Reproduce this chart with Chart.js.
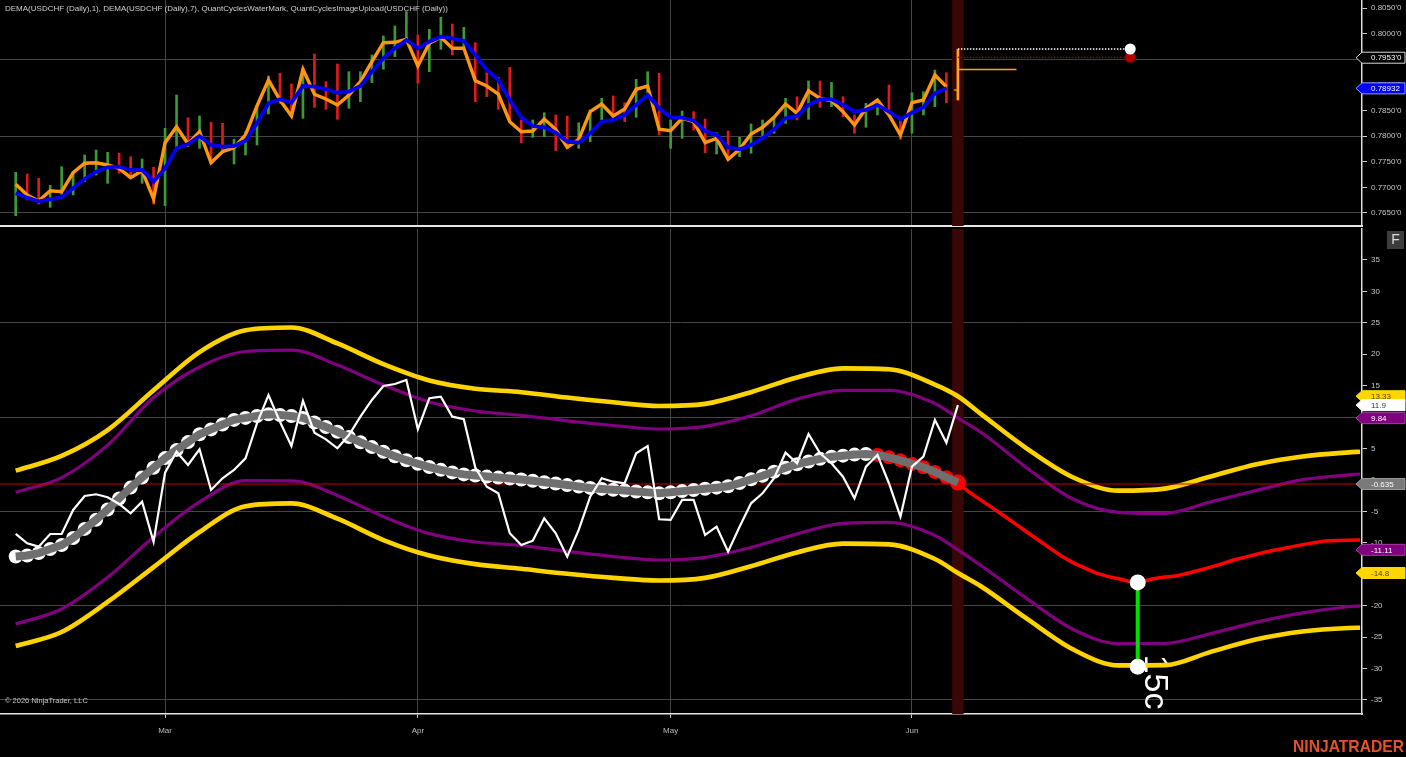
<!DOCTYPE html>
<html>
<head>
<meta charset="utf-8">
<script src="https://cdn.jsdelivr.net/npm/chart.js@4.4.1/dist/chart.umd.min.js"></script>
<style>
  html, body { margin: 0; padding: 0; background: #000; overflow: hidden; }
  #wrap { position: relative; width: 1406px; height: 757px; background: #000; }
  #topPane { position: absolute; left: 0; top: 0; }
  #botPane { position: absolute; left: 0; top: 228px; }
</style>
</head>
<body>
<div id="wrap">
  <canvas id="topPane" width="1406" height="228"></canvas>
  <canvas id="botPane" width="1406" height="529"></canvas>
</div>
<script>
// ---- price panel data (bar index 0..81, USDCHF daily) ----
const barHigh = [
  0.77294,0.77261,0.77177,0.77040,0.77403,0.77300,0.77632,0.77729,0.77684,0.77665,
  0.77598,0.77554,0.77392,0.78153,0.78802,0.78359,0.78393,0.78270,0.78250,0.77938,
  0.78086,0.78600,0.79173,0.79226,0.79017,0.79323,0.79602,0.79062,0.79407,0.79257,
  0.79257,0.79583,0.79954,0.80149,0.80428,0.79973,0.80084,0.80318,0.80188,0.80123,
  0.79823,0.79237,0.79148,0.79343,0.78315,0.78315,0.78457,0.78412,0.78393,0.78262,
  0.78510,0.78738,0.78783,0.78652,0.79109,0.79257,0.79226,0.78315,0.78490,0.78476,
  0.78334,0.78067,0.78100,0.77977,0.78237,0.78315,0.78380,0.78738,0.78769,0.79076,
  0.79076,0.79050,0.78769,0.78412,0.78640,0.78720,0.78997,0.78315,0.78847,0.78867,
  0.79290,0.79237
];
const barLow = [
  0.76447,0.76754,0.76676,0.76611,0.76865,0.76851,0.77111,0.77241,0.77079,0.77275,
  0.77180,0.77079,0.76676,0.76642,0.77794,0.77794,0.77762,0.77460,0.77680,0.77456,
  0.77632,0.77827,0.78432,0.78640,0.78380,0.78348,0.78562,0.78523,0.78328,0.78543,
  0.78672,0.79042,0.79304,0.79550,0.79876,0.79031,0.79257,0.79694,0.79583,0.79714,
  0.78672,0.78769,0.78523,0.78281,0.77872,0.77977,0.77989,0.77716,0.77762,0.77762,
  0.77891,0.78315,0.78367,0.78281,0.78367,0.78836,0.78022,0.77762,0.77957,0.78119,
  0.77677,0.77651,0.77530,0.77599,0.77665,0.77989,0.78055,0.78250,0.78315,0.78328,
  0.78562,0.78574,0.78379,0.78055,0.78172,0.78412,0.78400,0.77938,0.78055,0.78412,
  0.78574,0.78652
];
const barUp = [
  1,0,0,1,1,1,1,1,1,0,
  0,1,0,1,1,0,1,0,0,1,
  1,1,1,0,0,1,0,0,0,1,
  1,1,1,1,1,0,1,1,0,1,
  0,0,0,0,0,1,1,0,0,1,
  1,1,0,0,1,1,0,1,1,0,
  0,1,0,1,1,1,1,1,0,1,
  0,1,0,0,1,1,0,0,1,1,
  1,0
];
const dema1 = [
  0.77060,0.76851,0.76734,0.76935,0.76916,0.77286,0.77470,0.77481,0.77437,0.77372,
  0.77189,0.77325,0.76773,0.77872,0.78184,0.77846,0.78086,0.77481,0.77696,0.77774,
  0.78022,0.78588,0.79095,0.78705,0.78393,0.79304,0.78816,0.78724,0.78607,0.78802,
  0.79062,0.79452,0.79823,0.79831,0.79889,0.79368,0.79811,0.79928,0.79714,0.79714,
  0.79081,0.78978,0.78822,0.78281,0.78086,0.78100,0.78334,0.78133,0.77782,0.77938,
  0.78477,0.78627,0.78393,0.78529,0.78914,0.78978,0.78133,0.78106,0.78348,0.78281,
  0.77872,0.77957,0.77548,0.77743,0.78041,0.78172,0.78367,0.78627,0.78445,0.78886,
  0.78738,0.78691,0.78477,0.78217,0.78543,0.78705,0.78412,0.78022,0.78652,0.78705,
  0.79193,0.78964
];
const dema7 = [
  0.76884,0.76799,0.76728,0.76767,0.76806,0.76982,0.77163,0.77306,0.77392,0.77403,
  0.77339,0.77339,0.77111,0.77372,0.77762,0.77846,0.78002,0.77827,0.77794,0.77807,
  0.77911,0.78250,0.78640,0.78718,0.78652,0.78978,0.78964,0.78914,0.78847,0.78867,
  0.78978,0.79257,0.79518,0.79714,0.79876,0.79714,0.79842,0.79940,0.79909,0.79856,
  0.79583,0.79290,0.79095,0.78705,0.78367,0.78197,0.78172,0.78067,0.77891,0.77872,
  0.78055,0.78281,0.78315,0.78412,0.78607,0.78802,0.78543,0.78367,0.78359,0.78301,
  0.78100,0.78022,0.77782,0.77743,0.77827,0.77957,0.78133,0.78348,0.78393,0.78607,
  0.78718,0.78718,0.78607,0.78477,0.78510,0.78607,0.78477,0.78328,0.78457,0.78562,
  0.78836,0.78932
];

// forming bar and target levels
const currentBar = 82;
const formingBar = [0.78705, 0.79694];
const formingTick = 0.7930;
const formingTickEnd = 87.1;
const formingOpen = 0.7890;
const levelEnd = 97;
const levelWhite = 0.7970;
const levelRed = 0.79538;

// ---- cycle panel data ----
const oscillator = [
  -8.59,-10.07,-10.61,-8.59,-8.59,-4.77,-2.55,-2.27,-2.75,-3.82,
  -5.30,-3.45,-9.82,1.16,4.50,2.39,4.88,-1.59,0.27,1.59,
  3.45,9.02,13.52,9.27,5.41,12.62,7.52,6.47,5.04,7.16,
  10.07,12.73,14.95,15.27,15.91,8.07,13.00,13.25,10.07,9.66,
  1.99,-1.07,-2.12,-8.48,-10.34,-9.66,-6.09,-8.48,-12.20,-7.95,
  -2.66,0.27,-0.27,-0.52,4.25,5.41,-6.25,-6.36,-3.18,-3.18,
  -8.75,-7.43,-11.41,-7.43,-3.71,-2.12,0.27,4.34,2.66,7.32,
  4.25,2.66,0.52,-2.91,2.12,3.98,-0.52,-5.84,2.12,3.71,
  9.55,5.93,11.9
];
const cycleLine = [
  -12.17,-12.01,-11.63,-10.99,-10.36,-9.24,-7.78,-6.32,-4.69,-2.94,
  -1.21,0.40,1.94,3.48,4.79,6.03,7.27,8.05,8.83,9.56,
  9.88,10.18,10.44,10.33,10.17,9.88,9.15,8.42,7.67,6.84,
  6.01,5.23,4.50,3.77,3.15,2.59,2.05,1.61,1.21,0.89,
  0.72,0.54,0.38,0.22,0.08,-0.13,-0.35,-0.57,-0.81,-1.03,
  -1.26,-1.42,-1.56,-1.69,-1.83,-1.97,-2.10,-1.96,-1.77,-1.59,
  -1.40,-1.22,-1.00,-0.49,0.10,0.67,1.30,1.94,2.51,2.94,
  3.36,3.69,3.87,4.04,4.14,3.99,3.61,3.12,2.56,2.02,
  1.27,0.43,-0.41
];
const turnStart = 75; // cycle markers turn red from here
const projection = [
  -0.41,-1.96,-3.20,-4.44,-5.70,-6.98,-8.27,-9.55,-10.83,-12.09,
  -13.14,-13.97,-14.79,-15.34,-15.72,-16.20,-16.20,-15.72,-15.45,-15.27,
  -14.83,-14.37,-13.87,-13.33,-12.73,-12.28,-11.82,-11.37,-11.01,-10.64,
  -10.28,-10.00,-9.69,-9.64,-9.59,-9.55
];
const bandIdx = [0,4,8,12,16,20,24,28,32,36,40,44,48,52,56,60,64,68,72,76,80,82,84,88,92,96,100,104,108,112,116,117];
const upperOuter = [1.48,3.83,7.94,14.27,20.35,23.82,24.26,21.72,18.42,15.83,14.52,13.97,13.11,12.36,11.77,12.11,13.97,16.32,17.75,17.61,15.19,13.33,10.52,5.00,0.43,-1.70,-1.37,0.57,2.50,3.74,4.39,4.50];
const upperInner = [-1.96,0.38,5.54,13.11,17.98,20.44,20.67,18.28,15.11,12.42,10.98,10.28,9.40,8.67,8.11,8.54,10.21,12.87,14.27,14.27,12.17,9.84,7.60,1.91,-3.02,-5.14,-5.31,-3.48,-1.65,0.05,0.81,0.95];
const lowerInner = [-22.91,-20.52,-15.49,-9.08,-3.50,-0.11,-0.13,-2.45,-5.84,-8.53,-9.86,-10.42,-11.37,-12.17,-12.73,-12.31,-10.72,-8.57,-6.89,-6.75,-8.83,-11.11,-13.60,-18.87,-23.75,-26.04,-26.01,-24.44,-22.61,-21.14,-20.17,-20.04];
const lowerOuter = [-26.41,-24.18,-19.41,-13.86,-8.27,-4.17,-3.72,-6.16,-9.55,-12.01,-13.39,-14.13,-14.92,-15.57,-16.00,-15.57,-13.71,-11.52,-10.13,-10.25,-12.57,-14.80,-16.91,-22.05,-26.93,-29.50,-29.46,-27.35,-25.34,-24.10,-23.54,-23.50];
const zeroLevel = -0.635;
const cycleLowIdx = 97.65;
const cycleLowTop = -16.3;
const cycleLowBottom = -29.7;
const cycleLabel = '15c';

// ---- axes / labels ----
const monthIdx = [13, 35, 57, 78];
const monthLabels = ['Mar', 'Apr', 'May', 'Jun'];
const priceTicks = [0.765, 0.770, 0.775, 0.780, 0.785, 0.790, 0.795, 0.800, 0.805];
const priceGrid = [0.765, 0.780, 0.795];
const oscTicks = [-35, -30, -25, -20, -15, -10, -5, 0, 5, 10, 15, 20, 25, 30, 35];
const oscGrid = [-35, -20, -5, 10, 25];
const priceTagValues = [0.7953, 0.78932];
const priceTagLabels = ["0.7953'0", '0.78932'];
const oscTagValues = [13.33, 11.9, 9.84, -0.635, -11.11, -14.8];
const oscTagLabels = ['13.33', '11.9', '9.84', '-0.635', '-11.11', '-14.8'];
const titleText = 'DEMA(USDCHF (Daily),1), DEMA(USDCHF (Daily),7), QuantCyclesWaterMark, QuantCyclesImageUpload(USDCHF (Daily))';

// ---- styling ----
const FONT = '"Liberation Sans", Arial, sans-serif';
const X_MIN = -1.366, X_MAX = 117.17;
const GRID = '#454545';
const priceTagStyles = [
  { bg: '#000000', fg: '#ffffff', border: '#d8d8d8' },
  { bg: '#0000ff', fg: '#ffffff', border: '#9a9aff' }
];
const oscTagStyles = [
  { bg: '#ffd700', fg: '#4a4000', border: '#ffd700' },
  { bg: '#ffffff', fg: '#333333', border: '#ffffff' },
  { bg: '#800080', fg: '#ffffff', border: '#a040a0' },
  { bg: '#7a7a7a', fg: '#ffffff', border: '#9a9a9a' },
  { bg: '#800080', fg: '#ffffff', border: '#a040a0' },
  { bg: '#ffd700', fg: '#4a4000', border: '#ffd700' }
];

Chart.defaults.font.family = FONT;

const seq = (start, vals) => vals.map((v, i) => ({ x: start + i, y: v }));
const at = (idx, vals) => vals.map((v, i) => ({ x: idx[i], y: v }));
const near = (list, v) => list.some(g => Math.abs(g - v) < 1e-7);

function xAxis(withLabels) {
  return {
    type: 'linear', min: X_MIN, max: X_MAX, offset: false,
    afterBuildTicks: s => { s.ticks = monthIdx.map(v => ({ value: v })); },
    afterFit: s => { s.paddingLeft = 0; s.paddingRight = 0; s.height = withLabels ? 43 : 2; },
    grid: { offset: false, color: GRID, lineWidth: 1, drawTicks: withLabels, tickLength: 4, tickColor: '#cfcfcf' },
    border: { color: '#e6e6e6', width: withLabels ? 1.5 : 2 },
    ticks: {
      display: withLabels, color: '#bdbdbd', font: { size: 8 }, padding: 8,
      maxRotation: 0, autoSkip: false, callback: (v, i) => monthLabels[i]
    }
  };
}

function yAxis(min, max, ticks, grid, fmt) {
  return {
    type: 'linear', position: 'right', min, max,
    afterBuildTicks: s => { s.ticks = ticks.map(v => ({ value: v })); },
    afterFit: s => { s.width = 44; s.paddingTop = 0; s.paddingBottom = 0; },
    grid: {
      color: c => (c.tick && near(grid, c.tick.value) ? GRID : 'rgba(0,0,0,0)'),
      lineWidth: 1, drawTicks: true, tickLength: 5, tickColor: '#d0d0d0'
    },
    border: { color: '#dcdcdc', width: 1.5 },
    ticks: { color: '#c8c8c8', font: { size: 8 }, padding: 4, autoSkip: false, callback: fmt }
  };
}

function drawCurrentBar(chart) {
  const { ctx, chartArea: a } = chart;
  const xs = chart.scales.x;
  const x1 = xs.getPixelForValue(currentBar - 0.5);
  const x2 = xs.getPixelForValue(currentBar + 0.5);
  ctx.save();
  ctx.fillStyle = '#3a0707';
  ctx.fillRect(x1, a.top, x2 - x1, a.bottom - a.top);
  ctx.restore();
}

function tagBox(ctx, x, y, text, st) {
  const h = 11, w = 43, tip = 6;
  ctx.beginPath();
  ctx.moveTo(x - tip, y);
  ctx.lineTo(x, y - h / 2);
  ctx.lineTo(x + w, y - h / 2);
  ctx.lineTo(x + w, y + h / 2);
  ctx.lineTo(x, y + h / 2);
  ctx.closePath();
  ctx.fillStyle = st.bg;
  ctx.fill();
  ctx.lineWidth = 1;
  ctx.strokeStyle = st.border;
  ctx.stroke();
  ctx.fillStyle = st.fg;
  ctx.font = '8px ' + FONT;
  ctx.textAlign = 'left';
  ctx.textBaseline = 'middle';
  ctx.fillText(text, x + 9, y + 0.5);
}

const priceOverlay = {
  id: 'priceOverlay',
  beforeDatasetsDraw(chart) { drawCurrentBar(chart); },
  afterDraw(chart) {
    const ctx = chart.ctx, ys = chart.scales.y;
    ctx.save();
    ctx.font = '8px ' + FONT;
    ctx.fillStyle = '#d0d0d0';
    ctx.textAlign = 'left';
    ctx.textBaseline = 'middle';
    ctx.fillText(titleText, 5, 9);
    priceTagValues.forEach((v, i) =>
      tagBox(ctx, chart.chartArea.right, ys.getPixelForValue(v), priceTagLabels[i], priceTagStyles[i]));
    ctx.restore();
  }
};

const cycleOverlay = {
  id: 'cycleOverlay',
  beforeDatasetsDraw(chart) {
    drawCurrentBar(chart);
    const { ctx, chartArea: a } = chart;
    const xs = chart.scales.x, ys = chart.scales.y;
    ctx.save();
    ctx.beginPath();
    ctx.rect(a.left, a.top, a.right - a.left, a.bottom - a.top);
    ctx.clip();
    ctx.translate(xs.getPixelForValue(cycleLowIdx) + 7, ys.getPixelForValue(cycleLowBottom) - 12);
    ctx.rotate(Math.PI / 2);
    ctx.font = '34px ' + FONT;
    ctx.fillStyle = '#ffffff';
    ctx.textAlign = 'left';
    ctx.textBaseline = 'alphabetic';
    ctx.fillText(cycleLabel, 0, 0);
    ctx.restore();
  },
  afterDraw(chart) {
    const { ctx, chartArea: a } = chart;
    const ys = chart.scales.y;
    ctx.save();
    oscTagValues.forEach((v, i) =>
      tagBox(ctx, a.right, ys.getPixelForValue(v), oscTagLabels[i], oscTagStyles[i]));
    // F button
    ctx.fillStyle = '#3c3c3c';
    ctx.fillRect(1387, 3, 17, 18);
    ctx.fillStyle = '#dcdcdc';
    ctx.font = '14px ' + FONT;
    ctx.textAlign = 'center';
    ctx.textBaseline = 'middle';
    ctx.fillText('F', 1395.5, 12.5);
    // copyright
    ctx.fillStyle = '#c4c4c4';
    ctx.font = '7.5px ' + FONT;
    ctx.textAlign = 'left';
    ctx.fillText('\u00a9 2026 NinjaTrader, LLC', 5, a.bottom - 13);
    // brand
    ctx.fillStyle = '#e5512d';
    ctx.font = 'bold 17px "Liberation Sans Narrow", ' + FONT;
    ctx.textAlign = 'right';
    ctx.textBaseline = 'alphabetic';
    ctx.fillText('NINJATRADER', 1404, 524, 111);
    ctx.restore();
  }
};

const baseOptions = {
  responsive: false,
  animation: false,
  events: [],
  plugins: { legend: { display: false }, tooltip: { enabled: false } }
};

// ---- top: price panel ----
new Chart(document.getElementById('topPane'), {
  type: 'line',
  data: {
    datasets: [
      {
        label: 'DEMA 7', data: seq(0, dema7), borderColor: '#0000ee', borderWidth: 3.8,
        pointRadius: 0, tension: 0, order: 1
      },
      {
        label: 'DEMA 1', data: seq(0, dema1), borderColor: '#ff9612', borderWidth: 3.4,
        pointRadius: 0, tension: 0, order: 2
      },
      {
        label: 'level white', data: [{ x: currentBar, y: levelWhite }, { x: levelEnd, y: levelWhite }],
        borderColor: '#ffffff', borderWidth: 1.3, borderDash: [1.5, 1.5],
        pointRadius: [0, 5.5], pointBackgroundColor: '#ffffff', pointBorderWidth: 0, order: 3
      },
      {
        label: 'level red', data: [{ x: currentBar, y: levelRed }, { x: levelEnd, y: levelRed }],
        borderColor: '#a00000', borderWidth: 1.3, borderDash: [1.5, 1.5],
        pointRadius: [0, 5.5], pointBackgroundColor: '#b00000', pointBorderColor: '#5a0000',
        pointBorderWidth: 1, order: 4
      },
      {
        label: 'forming tick', data: [{ x: currentBar, y: formingTick }, { x: formingTickEnd, y: formingTick }],
        borderColor: '#ffa21f', borderWidth: 1.3, pointRadius: 0, order: 5
      },
      {
        label: 'forming open', data: [{ x: currentBar - 0.35, y: formingOpen }, { x: currentBar, y: formingOpen }],
        borderColor: '#ffa21f', borderWidth: 1.3, pointRadius: 0, order: 5
      },
      {
        type: 'bar', label: 'forming bar', data: [{ x: currentBar, y: formingBar }],
        backgroundColor: '#ffa21f', barThickness: 2, grouped: false, order: 6
      },
      {
        type: 'bar', label: 'USDCHF',
        data: barLow.map((lo, i) => ({ x: i, y: [lo, barHigh[i]] })),
        backgroundColor: barUp.map(u => (u ? '#3d9a35' : '#e01a1a')),
        barThickness: 2, grouped: false, order: 10
      }
    ]
  },
  options: {
    ...baseOptions,
    layout: { padding: 0, autoPadding: false },
    scales: {
      x: xAxis(false),
      y: yAxis(0.762463, 0.806561, priceTicks, priceGrid, v => v.toFixed(4) + "'0")
    }
  },
  plugins: [priceOverlay]
});

// ---- bottom: cycle panel ----
const band = (data, color, width, order) => ({
  data, borderColor: color, borderWidth: width, pointRadius: 0,
  cubicInterpolationMode: 'monotone', order
});

new Chart(document.getElementById('botPane'), {
  type: 'line',
  data: {
    datasets: [
      {
        label: 'cycle low', data: [{ x: cycleLowIdx, y: cycleLowTop }, { x: cycleLowIdx, y: cycleLowBottom }],
        borderColor: '#00e000', borderWidth: 4, pointRadius: 8,
        pointBackgroundColor: '#ffffff', pointBorderWidth: 0, order: 1
      },
      {
        label: 'oscillator', data: seq(0, oscillator), borderColor: '#ffffff', borderWidth: 2.2,
        pointRadius: 0, tension: 0, order: 2
      },
      {
        label: 'cycle', data: seq(0, cycleLine), borderColor: '#6f6f6f', borderWidth: 8,
        pointRadius: 0, tension: 0, order: 3
      },
      {
        label: 'cycle markers', data: seq(0, cycleLine), showLine: false,
        pointRadius: c => (c.dataIndex === cycleLine.length - 1 ? 8 : 7),
        pointBackgroundColor: c => (c.dataIndex >= turnStart ? '#ff0000' : '#ffffff'),
        pointBorderWidth: 0, order: 4
      },
      {
        label: 'projection', data: seq(currentBar, projection), borderColor: '#ff0000', borderWidth: 3.5,
        pointRadius: 0, tension: 0, order: 5
      },
      {
        label: 'zero', data: [{ x: X_MIN, y: zeroLevel }, { x: X_MAX, y: zeroLevel }],
        borderColor: '#cc0000', borderWidth: 1.2, pointRadius: 0, order: 6
      },
      band(at(bandIdx, upperInner), '#800080', 3.2, 7),
      band(at(bandIdx, lowerInner), '#800080', 3.2, 7),
      band(at(bandIdx, upperOuter), '#ffd300', 4.6, 8),
      band(at(bandIdx, lowerOuter), '#ffd300', 4.6, 8)
    ]
  },
  options: {
    ...baseOptions,
    layout: { padding: { top: 1, left: 0, right: 0, bottom: 0 }, autoPadding: false },
    scales: {
      x: xAxis(true),
      y: yAxis(-37.23, 39.93, oscTicks, oscGrid, v => String(v))
    }
  },
  plugins: [cycleOverlay]
});
</script>
</body>
</html>
